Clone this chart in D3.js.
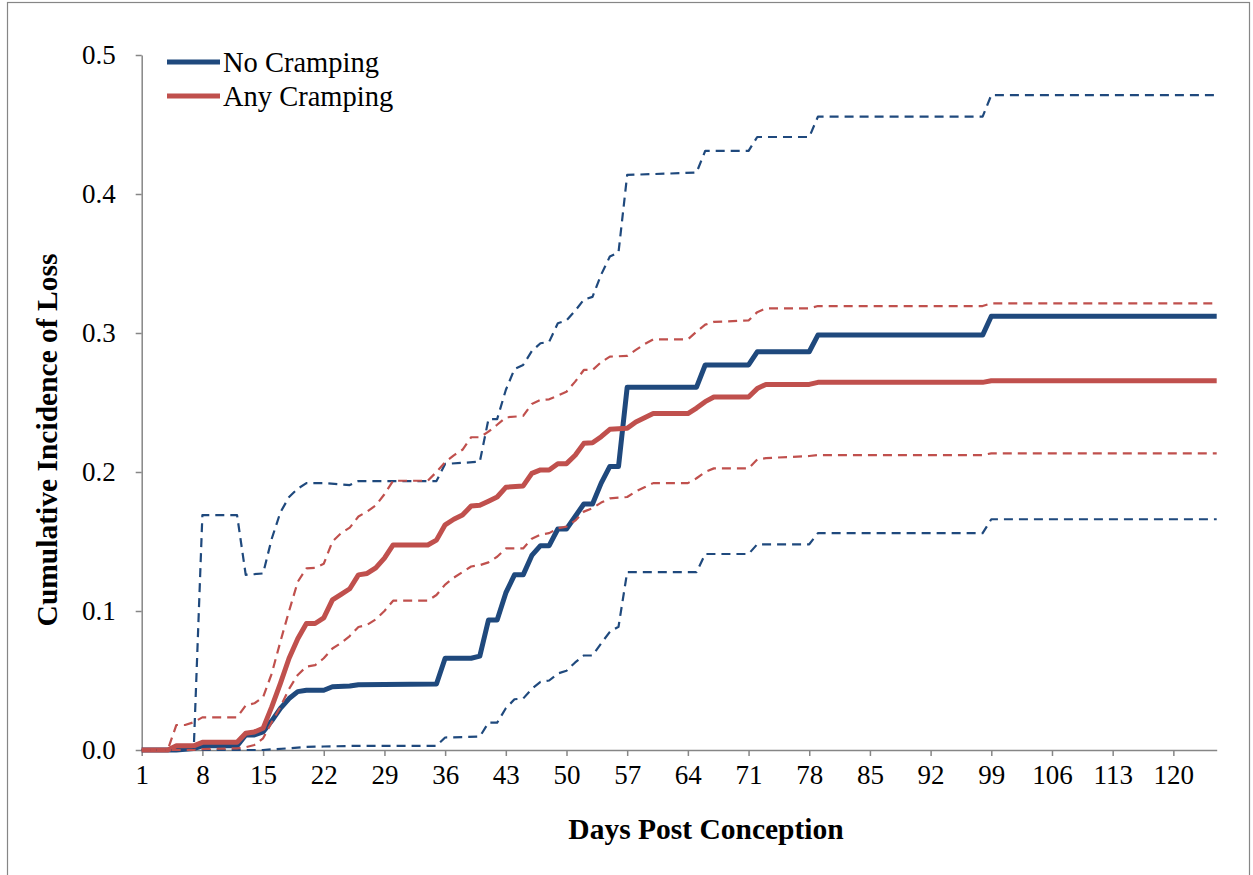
<!DOCTYPE html>
<html>
<head>
<meta charset="utf-8">
<script src="https://cdn.jsdelivr.net/npm/d3@7"></script>
<style>
  body { margin: 0; background: #fff; }
  text { font-family: "Liberation Serif", "Times New Roman", serif; fill: #000; }
</style>
</head>
<body>
<svg id="chart"></svg>
<script>
// categories: days post conception, tick labels every 7 days
const tickDays = d3.range(1, 121, 7);
const yTicks = [0, 0.1, 0.2, 0.3, 0.4, 0.5];

// series values as [day, value] breakpoints (flat runs are held between points)
const noCramping = [[1,0],[5,0],[7,0.001],[8,0.003],[12,0.003],[13,0.0108],[14,0.0108],[15,0.013],[16,0.021],[17,0.030],[18,0.037],[19,0.042],[20,0.043],[22,0.043],[23,0.0455],[25,0.046],[26,0.047],[35,0.0475],[36,0.066],[39,0.066],[40,0.0675],[41,0.0935],[42,0.0935],[43,0.113],[44,0.126],[45,0.126],[46,0.140],[47,0.147],[48,0.147],[49,0.159],[50,0.159],[51,0.168],[52,0.177],[53,0.177],[54,0.192],[55,0.204],[56,0.204],[57,0.261],[65,0.261],[66,0.277],[71,0.277],[72,0.2865],[78,0.2865],[79,0.2985],[98,0.2985],[99,0.312],[125,0.312]];

const anyCramping = [[1,0],[4,0],[5,0.003],[7,0.003],[8,0.0055],[12,0.0055],[13,0.012],[14,0.013],[15,0.0156],[16,0.031],[17,0.048],[18,0.066],[19,0.080],[20,0.091],[21,0.091],[22,0.095],[23,0.108],[24,0.112],[25,0.116],[26,0.126],[27,0.127],[28,0.131],[29,0.138],[30,0.1475],[34,0.1475],[35,0.151],[36,0.162],[37,0.166],[38,0.169],[39,0.1755],[40,0.176],[41,0.179],[42,0.182],[43,0.189],[45,0.19],[46,0.199],[47,0.2015],[48,0.2015],[49,0.206],[50,0.206],[51,0.212],[52,0.2206],[53,0.221],[54,0.2254],[55,0.2307],[57,0.2314],[58,0.236],[59,0.239],[60,0.242],[64,0.242],[65,0.246],[66,0.2506],[67,0.254],[71,0.254],[72,0.260],[73,0.263],[78,0.263],[79,0.2645],[98,0.2645],[99,0.2657],[125,0.2657]];

const noCrampingUpper = [[1,0],[7,0],[8,0.169],[12,0.169],[13,0.126],[15,0.127],[16,0.152],[17,0.171],[18,0.182],[19,0.188],[20,0.192],[22,0.192],[25,0.1906],[26,0.1935],[35,0.1935],[36,0.2058],[40,0.2074],[41,0.238],[42,0.238],[43,0.259],[44,0.274],[45,0.277],[46,0.287],[47,0.2926],[48,0.2937],[49,0.307],[50,0.309],[51,0.316],[52,0.324],[53,0.326],[54,0.342],[55,0.355],[56,0.358],[57,0.4137],[65,0.4154],[66,0.431],[71,0.431],[72,0.441],[78,0.441],[79,0.4556],[98,0.4556],[99,0.4712],[125,0.4712]];

const noCrampingLower = [[1,0],[15,0],[16,0.0005],[18,0.0012],[20,0.0022],[22,0.0025],[26,0.003],[35,0.003],[36,0.009],[40,0.0096],[41,0.0197],[42,0.0197],[43,0.030],[44,0.0365],[45,0.037],[46,0.044],[47,0.049],[48,0.050],[49,0.055],[50,0.057],[51,0.063],[52,0.068],[53,0.068],[54,0.0767],[55,0.085],[56,0.0887],[57,0.128],[65,0.128],[66,0.141],[71,0.141],[72,0.148],[78,0.148],[79,0.156],[98,0.156],[99,0.166],[125,0.166]];

const anyCrampingUpper = [[1,0],[4,0],[5,0.018],[6,0.018],[7,0.020],[8,0.0235],[12,0.0235],[13,0.032],[14,0.0336],[15,0.038],[16,0.055],[17,0.078],[18,0.100],[19,0.121],[20,0.1307],[21,0.131],[22,0.134],[23,0.150],[24,0.156],[25,0.160],[26,0.168],[27,0.1715],[28,0.176],[29,0.184],[30,0.1937],[34,0.1937],[35,0.200],[36,0.207],[37,0.212],[38,0.216],[39,0.225],[40,0.225],[41,0.229],[42,0.234],[43,0.2393],[45,0.2403],[46,0.249],[47,0.2518],[48,0.2523],[49,0.255],[50,0.2578],[51,0.265],[52,0.2734],[53,0.2734],[54,0.279],[55,0.283],[57,0.2835],[58,0.2878],[59,0.292],[60,0.2954],[64,0.2954],[65,0.301],[66,0.306],[67,0.308],[71,0.309],[72,0.315],[73,0.3177],[78,0.3177],[79,0.3194],[98,0.3194],[99,0.3213],[125,0.3213]];

const anyCrampingLower = [[1,0],[7,0],[8,0.0007],[12,0.0012],[13,0.002],[14,0.0036],[15,0.0084],[16,0.020],[17,0.031],[18,0.044],[19,0.054],[20,0.06],[21,0.061],[22,0.066],[23,0.073],[24,0.077],[25,0.082],[26,0.0885],[27,0.09],[28,0.094],[29,0.100],[30,0.1074],[34,0.1074],[35,0.1115],[36,0.119],[37,0.124],[38,0.128],[39,0.132],[40,0.133],[41,0.135],[42,0.139],[43,0.145],[45,0.145],[46,0.152],[47,0.155],[48,0.156],[49,0.1595],[50,0.1607],[51,0.165],[52,0.1715],[53,0.174],[54,0.178],[55,0.181],[57,0.182],[58,0.186],[59,0.189],[60,0.192],[64,0.192],[65,0.1955],[66,0.200],[67,0.2026],[71,0.2026],[72,0.209],[73,0.21],[78,0.2115],[79,0.2122],[98,0.2122],[99,0.2134],[125,0.2134]];

var width = 1253;
var height = 875;
var margin = { top: 55, right: 36.3, bottom: 125, left: 141.7 };

var blue = '#1f497d';
var red = '#c0504d';
var axisGrey = '#868686';

var svg = d3.select('#chart')
  .attr('width', width)
  .attr('height', height);

// outer chart border
svg.append('rect')
  .attr('x', 7.5).attr('y', 2.5)
  .attr('width', 1242).attr('height', 900)
  .attr('fill', 'none')
  .attr('stroke', axisGrey)
  .attr('stroke-width', 1.2);

var x = d3.scaleLinear()
  .domain([1, 125])
  .range([margin.left, width - margin.right]);

var y = d3.scaleLinear()
  .domain([0, 0.5])
  .range([height - margin.bottom, margin.top]);

// axes
var yAxis = svg.append('g')
  .attr('transform', 'translate(' + margin.left + ',0)')
  .call(d3.axisLeft(y).tickValues(yTicks).tickFormat(d3.format('.1f')).tickSize(6).tickSizeOuter(0).tickPadding(20));

var xAxis = svg.append('g')
  .attr('transform', 'translate(0,' + (height - margin.bottom) + ')')
  .call(d3.axisBottom(x).tickValues(tickDays).tickFormat(d3.format('d')).tickSize(6).tickSizeOuter(0).tickPadding(9));

[yAxis, xAxis].forEach(function(g) {
  g.select('.domain').attr('stroke', axisGrey).attr('stroke-width', 1.5);
  g.selectAll('.tick line').attr('stroke', axisGrey).attr('stroke-width', 1.5);
  g.selectAll('.tick text')
    .style('font-family', '"Liberation Serif", "Times New Roman", serif')
    .style('font-size', '27px')
    .attr('fill', '#000');
});

// lines
var line = d3.line()
  .x(d => x(d[0]))
  .y(d => y(d[1]));

var series = [
  { data: noCramping, color: blue, w: 5, dash: null },
  { data: anyCramping, color: red, w: 5, dash: null },
  { data: noCrampingUpper, color: blue, w: 2.2, dash: '9,6' },
  { data: noCrampingLower, color: blue, w: 2.2, dash: '9,6' },
  { data: anyCrampingUpper, color: red, w: 2.2, dash: '9,6' },
  { data: anyCrampingLower, color: red, w: 2.2, dash: '9,6' }
];

svg.selectAll('path.series')
  .data(series)
  .join('path')
    .attr('class', 'series')
    .attr('d', s => line(s.data))
    .attr('fill', 'none')
    .attr('stroke', s => s.color)
    .attr('stroke-width', s => s.w)
    .attr('stroke-dasharray', s => s.dash)
    .attr('stroke-linejoin', 'round');

// axis titles
svg.append('text')
  .attr('transform', 'translate(47,440) rotate(-90)')
  .attr('text-anchor', 'middle')
  .attr('dominant-baseline', 'central')
  .style('font-size', '29.5px')
  .style('font-weight', 'bold')
  .text('Cumulative Incidence of Loss');

svg.append('text')
  .attr('x', 706)
  .attr('y', 839)
  .attr('text-anchor', 'middle')
  .style('font-size', '29.5px')
  .style('font-weight', 'bold')
  .text('Days Post Conception');

// legend
var legend = [
  { name: 'No Cramping', color: blue, y: 62 },
  { name: 'Any Cramping', color: red, y: 96 }
];

var lg = svg.append('g').selectAll('g')
  .data(legend)
  .join('g');

lg.append('line')
  .attr('x1', 167).attr('x2', 220)
  .attr('y1', d => d.y).attr('y2', d => d.y)
  .attr('stroke', d => d.color)
  .attr('stroke-width', 5);

lg.append('text')
  .attr('x', 223)
  .attr('y', d => d.y)
  .attr('dominant-baseline', 'central')
  .style('font-size', '28.5px')
  .text(d => d.name);
</script>
</body>
</html>
